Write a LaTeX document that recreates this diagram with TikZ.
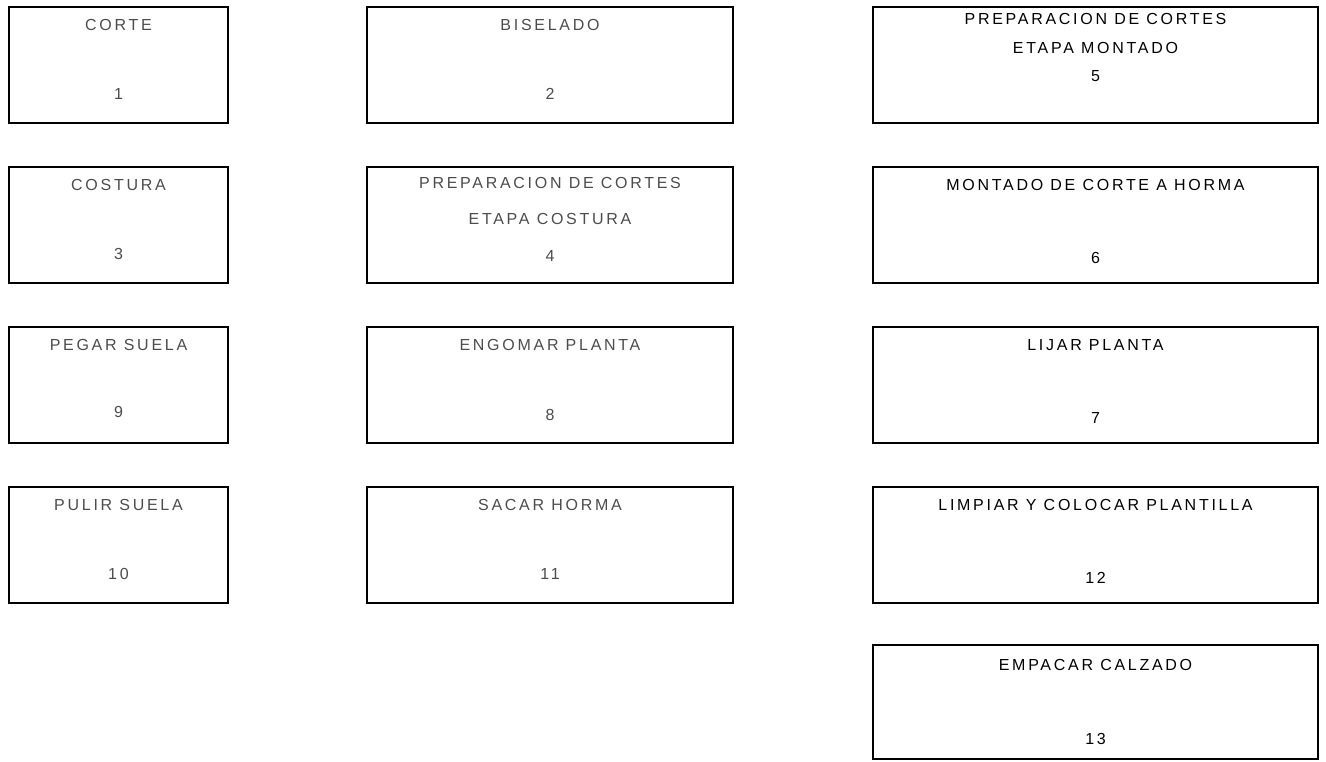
\documentclass[tikz,border=0pt]{standalone}
\usepackage{fontspec}
\setmainfont{Liberation Sans}[LetterSpace=17]
\begin{document}
\begin{tikzpicture}[x=1pt,y=-1pt,
  boxA/.style={draw=black,line width=1.4pt,minimum height=116pt,inner sep=0pt,rectangle},
  boxB/.style={draw=black,line width=2pt,minimum height=116pt,inner sep=0pt,rectangle},
  txtA/.style={font=\fontsize{16}{18}\selectfont,text=black!70,inner sep=0pt,anchor=center},
  txtB/.style={font=\fontsize{16}{18}\selectfont,text=black,inner sep=0pt,anchor=center}]
\useasboundingbox (0,0) rectangle (1326,762);
% column 1
\node[boxA,minimum width=219pt] (b1) at (118.5,65) {};
\node[boxA,minimum width=219pt] (b3) at (118.5,225) {};
\node[boxA,minimum width=219pt] (b9) at (118.5,385) {};
\node[boxA,minimum width=219pt] (b10) at (118.5,545) {};
% column 2
\node[boxA,minimum width=366pt] (b2) at (550,65) {};
\node[boxA,minimum width=366pt] (b4) at (550,225) {};
\node[boxA,minimum width=366pt] (b8) at (550,385) {};
\node[boxA,minimum width=366pt] (b11) at (550,545) {};
% column 3
\node[boxB,minimum width=445pt] (b5) at (1095.5,65) {};
\node[boxB,minimum width=445pt] (b6) at (1095.5,225) {};
\node[boxB,minimum width=445pt] (b7) at (1095.5,385) {};
\node[boxB,minimum width=445pt] (b12) at (1095.5,545) {};
\node[boxB,minimum width=445pt,minimum height=114pt] (b13) at (1095.5,702) {};
% texts column 1
\node[txtA] (t1) at ([yshift=-19pt]b1.north) {CORTE};
\node[txtA] (n1) at ([yshift=-88pt]b1.north) {1};
\node[txtA] (t3) at ([yshift=-19pt]b3.north) {COSTURA};
\node[txtA] (n3) at ([yshift=-88pt]b3.north) {3};
\node[txtA] (t9) at ([yshift=-19pt]b9.north) {PEGAR SUELA};
\node[txtA] (n9) at ([yshift=-86pt]b9.north) {9};
\node[txtA] (t10) at ([yshift=-19pt]b10.north) {PULIR SUELA};
\node[txtA] (n10) at ([yshift=-88pt]b10.north) {10};
% texts column 2
\node[txtA] (t2) at ([yshift=-19pt]b2.north) {BISELADO};
\node[txtA] (n2) at ([yshift=-88pt]b2.north) {2};
\node[txtA] (t4) at ([yshift=-17pt]b4.north) {PREPARACION DE CORTES};
\node[txtA] (u4) at ([yshift=-53pt]b4.north) {ETAPA COSTURA};
\node[txtA] (n4) at ([yshift=-90pt]b4.north) {4};
\node[txtA] (t8) at ([yshift=-19pt]b8.north) {ENGOMAR PLANTA};
\node[txtA] (n8) at ([yshift=-89pt]b8.north) {8};
\node[txtA] (t11) at ([yshift=-19pt]b11.north) {SACAR HORMA};
\node[txtA] (n11) at ([yshift=-88pt]b11.north) {11};
% texts column 3
\node[txtB] (t5) at ([yshift=-13pt]b5.north) {PREPARACION DE CORTES};
\node[txtB] (u5) at ([yshift=-42pt]b5.north) {ETAPA MONTADO};
\node[txtB] (n5) at ([yshift=-70pt]b5.north) {5};
\node[txtB] (t6) at ([yshift=-19pt]b6.north) {MONTADO DE CORTE A HORMA};
\node[txtB] (n6) at ([yshift=-92pt]b6.north) {6};
\node[txtB] (t7) at ([yshift=-19pt]b7.north) {LIJAR PLANTA};
\node[txtB] (n7) at ([yshift=-92pt]b7.north) {7};
\node[txtB] (t12) at ([yshift=-19pt]b12.north) {LIMPIAR Y COLOCAR PLANTILLA};
\node[txtB] (n12) at ([yshift=-92pt]b12.north) {12};
\node[txtB] (t13) at ([yshift=-21pt]b13.north) {EMPACAR CALZADO};
\node[txtB] (n13) at ([yshift=-95pt]b13.north) {13};
\end{tikzpicture}
\end{document}
